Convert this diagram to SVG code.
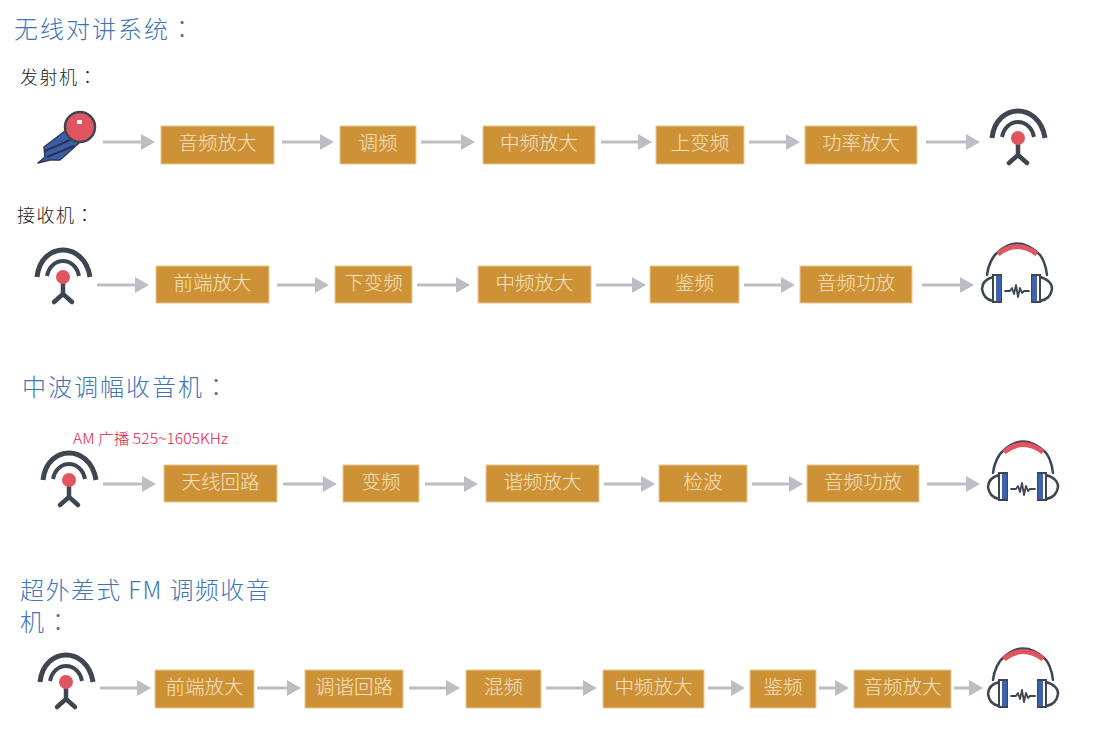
<svg xmlns="http://www.w3.org/2000/svg" width="1108" height="741" viewBox="0 0 1108 741">
<style>
text{font-family:"Noto Sans CJK SC","Noto Sans",sans-serif;font-weight:300}
.cl{font-family:"Noto Sans CJK TC","Noto Sans",sans-serif}
.h{font-size:24px;fill:#3f76b5;letter-spacing:2px}
.s{font-size:18px;fill:#222;letter-spacing:1.5px}
.r{font-size:15px;fill:#e6173f}
.b rect{fill:#ce9236;stroke:#e8c896;stroke-width:1}
.b text{font-size:19.5px;fill:#f3e3c6;text-anchor:middle}
.c line{stroke:#bcbec4;stroke-width:3;marker-end:url(#a)}
.d{fill:none;stroke:#3f4652;stroke-width:4.5;stroke-linecap:round}
.t{fill:none;stroke:#3f4652;stroke-width:2.5;stroke-linecap:round;stroke-linejoin:round}
</style>
<defs>
<marker id="a" markerUnits="userSpaceOnUse" markerWidth="15" markerHeight="18" refX="1" refY="9" orient="auto"><path d="M0 1L14 9L0 17Z" fill="#bcbec4"/></marker>
<g id="ant">
<path class="d" style="stroke-width:5;stroke-linecap:butt" d="M-26 0C-24-19-11-27 0-27S24-19 27 0"/>
<path class="d" style="stroke-width:4;stroke-linecap:butt" d="M-16-1C-14-11-7-16 0-16S14-11 16-1"/>
<path class="d" d="M0 3V17M0 17L-9 25M0 17L9 25"/>
<circle r="7" fill="#e0555f"/>
</g>
<g id="hp">
<path class="t" d="M-30 2C-29-8-24-17-20-20Q0-39 21-20C25-17 29-8 30 2"/>
<path d="M-19-19Q0-34 20-19" fill="none" stroke="#e0555f" stroke-width="5"/>
<rect x="-24" y="2" width="8" height="27" fill="#fff" stroke="#3f4652" stroke-width="2"/>
<rect x="15" y="2" width="8" height="27" fill="#fff" stroke="#3f4652" stroke-width="2"/>
<rect x="-21" y="3" width="5" height="25" fill="#3f62ad"/>
<rect x="15" y="3" width="5" height="25" fill="#3f62ad"/>
<path class="t" d="M-24 4C-31 6-35 10-35 16C-34 23-30 27-24 28M23 4C30 6 35 10 35 16C34 23 30 27 23 28"/>
<path class="t" style="stroke-width:1.8" d="M-12 18H-7L-5 15L-3 21L-1 12L1 24L3 15L5 20L7 18H12"/>
</g>
</defs>

<g id="titles">
<text class="h" x="14" y="38">无线对讲系统<tspan class="cl">：</tspan></text>
<text class="s" x="20" y="84">发射机<tspan class="cl">：</tspan></text>
<text class="s" x="17" y="222">接收机<tspan class="cl">：</tspan></text>
<text class="h" x="22" y="396">中波调幅收音机<tspan class="cl">：</tspan></text>
<text class="r" x="73" y="444" textLength="155" lengthAdjust="spacingAndGlyphs">AM 广播 525~1605KHz</text>
<text class="h" x="20" y="599" style="letter-spacing:1.4px">超外差式 FM 调频收音</text>
<text class="h" x="20" y="631">机<tspan class="cl">：</tspan></text>
</g>

<g id="connectors" class="c">
<line x1="103" y1="142" x2="142" y2="142"/><line x1="282" y1="142" x2="321" y2="142"/><line x1="421" y1="142" x2="462" y2="142"/><line x1="601" y1="142" x2="639" y2="142"/><line x1="749" y1="142" x2="787" y2="142"/><line x1="926" y1="142" x2="967" y2="142"/>
<line x1="97" y1="285" x2="136" y2="285"/><line x1="277" y1="285" x2="316" y2="285"/><line x1="417" y1="285" x2="457" y2="285"/><line x1="596" y1="285" x2="633" y2="285"/><line x1="744" y1="285" x2="782" y2="285"/><line x1="922" y1="285" x2="961" y2="285"/>
<line x1="103" y1="484" x2="143" y2="484"/><line x1="283" y1="484" x2="324" y2="484"/><line x1="425" y1="484" x2="465" y2="484"/><line x1="604" y1="484" x2="642" y2="484"/><line x1="752" y1="484" x2="790" y2="484"/><line x1="927" y1="484" x2="967" y2="484"/>
<line x1="100" y1="688" x2="138" y2="688"/><line x1="257" y1="688" x2="288" y2="688"/><line x1="409" y1="688" x2="447" y2="688"/><line x1="546" y1="688" x2="584" y2="688"/><line x1="708" y1="688" x2="732" y2="688"/><line x1="819" y1="688" x2="836" y2="688"/><line x1="954" y1="688" x2="970" y2="688"/>
</g>

<g id="mic">
<path d="M44 147L65 131L79 143L60 160L50 160L38 163L45 157Z" fill="#3c5fa8" stroke="#2f3a55" stroke-width="1.5" stroke-linejoin="round"/>
<path d="M45 151L70 140M47 157L74 146" stroke="#2a3350" stroke-width="2.2" fill="none"/>
<circle cx="80" cy="127" r="15" fill="#e0555f" stroke="#3f4652" stroke-width="2.5"/>
<rect x="77" y="120" width="5" height="4" fill="#fff"/>
</g>
<g id="ant1"><use href="#ant" x="1018" y="138"/></g>
<g id="ant2"><use href="#ant" x="63" y="277"/></g>
<g id="ant3"><use href="#ant" x="69" y="480"/></g>
<g id="ant4"><use href="#ant" x="66" y="682"/></g>
<g id="hp2"><use href="#hp" x="1017" y="273"/></g>
<g id="hp3"><use href="#hp" x="1023" y="471"/></g>
<g id="hp4"><use href="#hp" x="1023" y="678"/></g>

<g id="n11" class="b"><rect x="161" y="126" width="113" height="38"/><text x="217.500" y="150">音频放大</text></g>
<g id="n12" class="b"><rect x="340" y="126" width="76" height="38"/><text x="378" y="150">调频</text></g>
<g id="n13" class="b"><rect x="483" y="126" width="112" height="38"/><text x="539" y="150">中频放大</text></g>
<g id="n14" class="b"><rect x="656" y="126" width="88" height="38"/><text x="700" y="150">上变频</text></g>
<g id="n15" class="b"><rect x="805" y="126" width="112" height="38"/><text x="861" y="150">功率放大</text></g>

<g id="n21" class="b"><rect x="156" y="266" width="113" height="37"/><text x="212.500" y="290">前端放大</text></g>
<g id="n22" class="b"><rect x="335" y="266" width="77" height="37"/><text x="373.500" y="290">下变频</text></g>
<g id="n23" class="b"><rect x="478" y="266" width="113" height="37"/><text x="534.500" y="290">中频放大</text></g>
<g id="n24" class="b"><rect x="650" y="266" width="89" height="37"/><text x="694.500" y="290">鉴频</text></g>
<g id="n25" class="b"><rect x="800" y="266" width="112" height="37"/><text x="856" y="290">音频功放</text></g>

<g id="n31" class="b"><rect x="164" y="465" width="113" height="37"/><text x="220.500" y="489">天线回路</text></g>
<g id="n32" class="b"><rect x="343" y="465" width="76" height="37"/><text x="381" y="489">变频</text></g>
<g id="n33" class="b"><rect x="486" y="465" width="113" height="37"/><text x="542.500" y="489">谐频放大</text></g>
<g id="n34" class="b"><rect x="659" y="465" width="88" height="37"/><text x="703" y="489">检波</text></g>
<g id="n35" class="b"><rect x="807" y="465" width="112" height="37"/><text x="863" y="489">音频功放</text></g>

<g id="n41" class="b"><rect x="155" y="670" width="99" height="38"/><text x="204.500" y="694">前端放大</text></g>
<g id="n42" class="b"><rect x="305" y="670" width="98" height="38"/><text x="354" y="694">调谐回路</text></g>
<g id="n43" class="b"><rect x="466" y="670" width="75" height="38"/><text x="503.500" y="694">混频</text></g>
<g id="n44" class="b"><rect x="603" y="670" width="101" height="38"/><text x="653.500" y="694">中频放大</text></g>
<g id="n45" class="b"><rect x="750" y="670" width="66" height="38"/><text x="783" y="694">鉴频</text></g>
<g id="n46" class="b"><rect x="854" y="670" width="97" height="38"/><text x="902.500" y="694">音频放大</text></g>
</svg>
